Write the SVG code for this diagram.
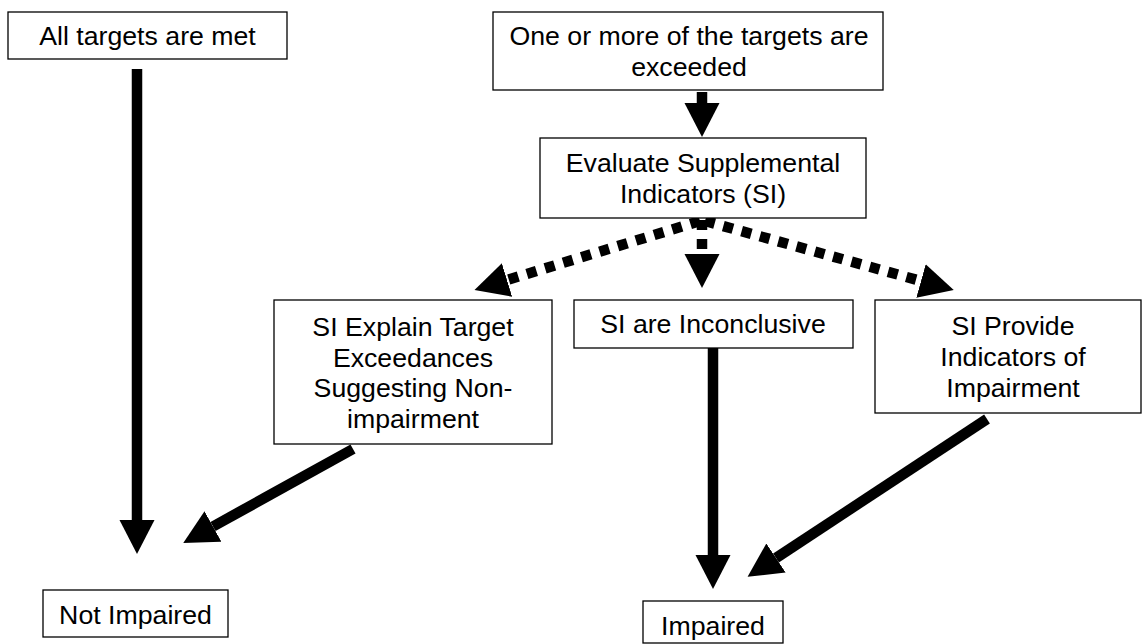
<svg xmlns="http://www.w3.org/2000/svg" width="1143" height="644" viewBox="0 0 1143 644">
<style>
.box{fill:#fff;stroke:#000;stroke-width:1.3}
.t{font-family:"Liberation Sans",Arial,sans-serif;font-size:26.7px;fill:#000;text-anchor:middle}
.solid{fill:none;stroke:#000;stroke-width:10.5;marker-end:url(#ah)}
.dot{fill:none;stroke:#000;stroke-width:10.5;stroke-dasharray:10 9;marker-end:url(#ah)}
</style>
<defs>
<marker id="ah" markerUnits="userSpaceOnUse" markerWidth="35" markerHeight="36" viewBox="0 -18 35 36" refX="0" refY="0" orient="auto">
<path d="M0,-17.5 L34,0 L0,17.5 z" fill="#000"/>
</marker>
</defs>
<rect width="1143" height="644" fill="#fff"/>
<g id="connectors">
<path class="solid" d="M137,69 L137,520"/>
<path class="solid" d="M702,92 L702,103"/>
<path class="dot" d="M702,220 L702,254"/>
<path class="dot" d="M700,221 L507,280"/>
<path class="dot" d="M705,221 L921,281"/>
<path class="solid" d="M713,348 L713,555"/>
<path class="solid" d="M353,449 L213,526.5"/>
<path class="solid" d="M987,419 L776,558"/>
</g>
<g id="n_met">
<rect class="box" x="8" y="12" width="279" height="47"/>
<text class="t" x="147.5" y="45">All targets are met</text>
</g>
<g id="n_exceeded">
<rect class="box" x="493" y="12" width="390" height="78"/>
<text class="t" x="689" y="45">One or more of the targets are</text>
<text class="t" x="689" y="76">exceeded</text>
</g>
<g id="n_evaluate">
<rect class="box" x="540" y="138" width="326" height="80"/>
<text class="t" x="703" y="172">Evaluate Supplemental</text>
<text class="t" x="703" y="203">Indicators (SI)</text>
</g>
<g id="n_explain">
<rect class="box" x="274" y="300" width="278" height="144"/>
<text class="t" x="413" y="336">SI Explain Target</text>
<text class="t" x="413" y="367">Exceedances</text>
<text class="t" x="413" y="397">Suggesting Non-</text>
<text class="t" x="413" y="428">impairment</text>
</g>
<g id="n_inconclusive">
<rect class="box" x="574" y="300" width="279" height="48"/>
<text class="t" x="713" y="333">SI are Inconclusive</text>
</g>
<g id="n_provide">
<rect class="box" x="875" y="300" width="266" height="113"/>
<text class="t" x="1013" y="335">SI Provide</text>
<text class="t" x="1013" y="366">Indicators of</text>
<text class="t" x="1013" y="397">Impairment</text>
</g>
<g id="n_not_impaired">
<rect class="box" x="43" y="590" width="185" height="47"/>
<text class="t" x="135.5" y="624">Not Impaired</text>
</g>
<g id="n_impaired">
<rect class="box" x="643" y="601" width="140" height="42"/>
<text class="t" x="713" y="635">Impaired</text>
</g>
</svg>
